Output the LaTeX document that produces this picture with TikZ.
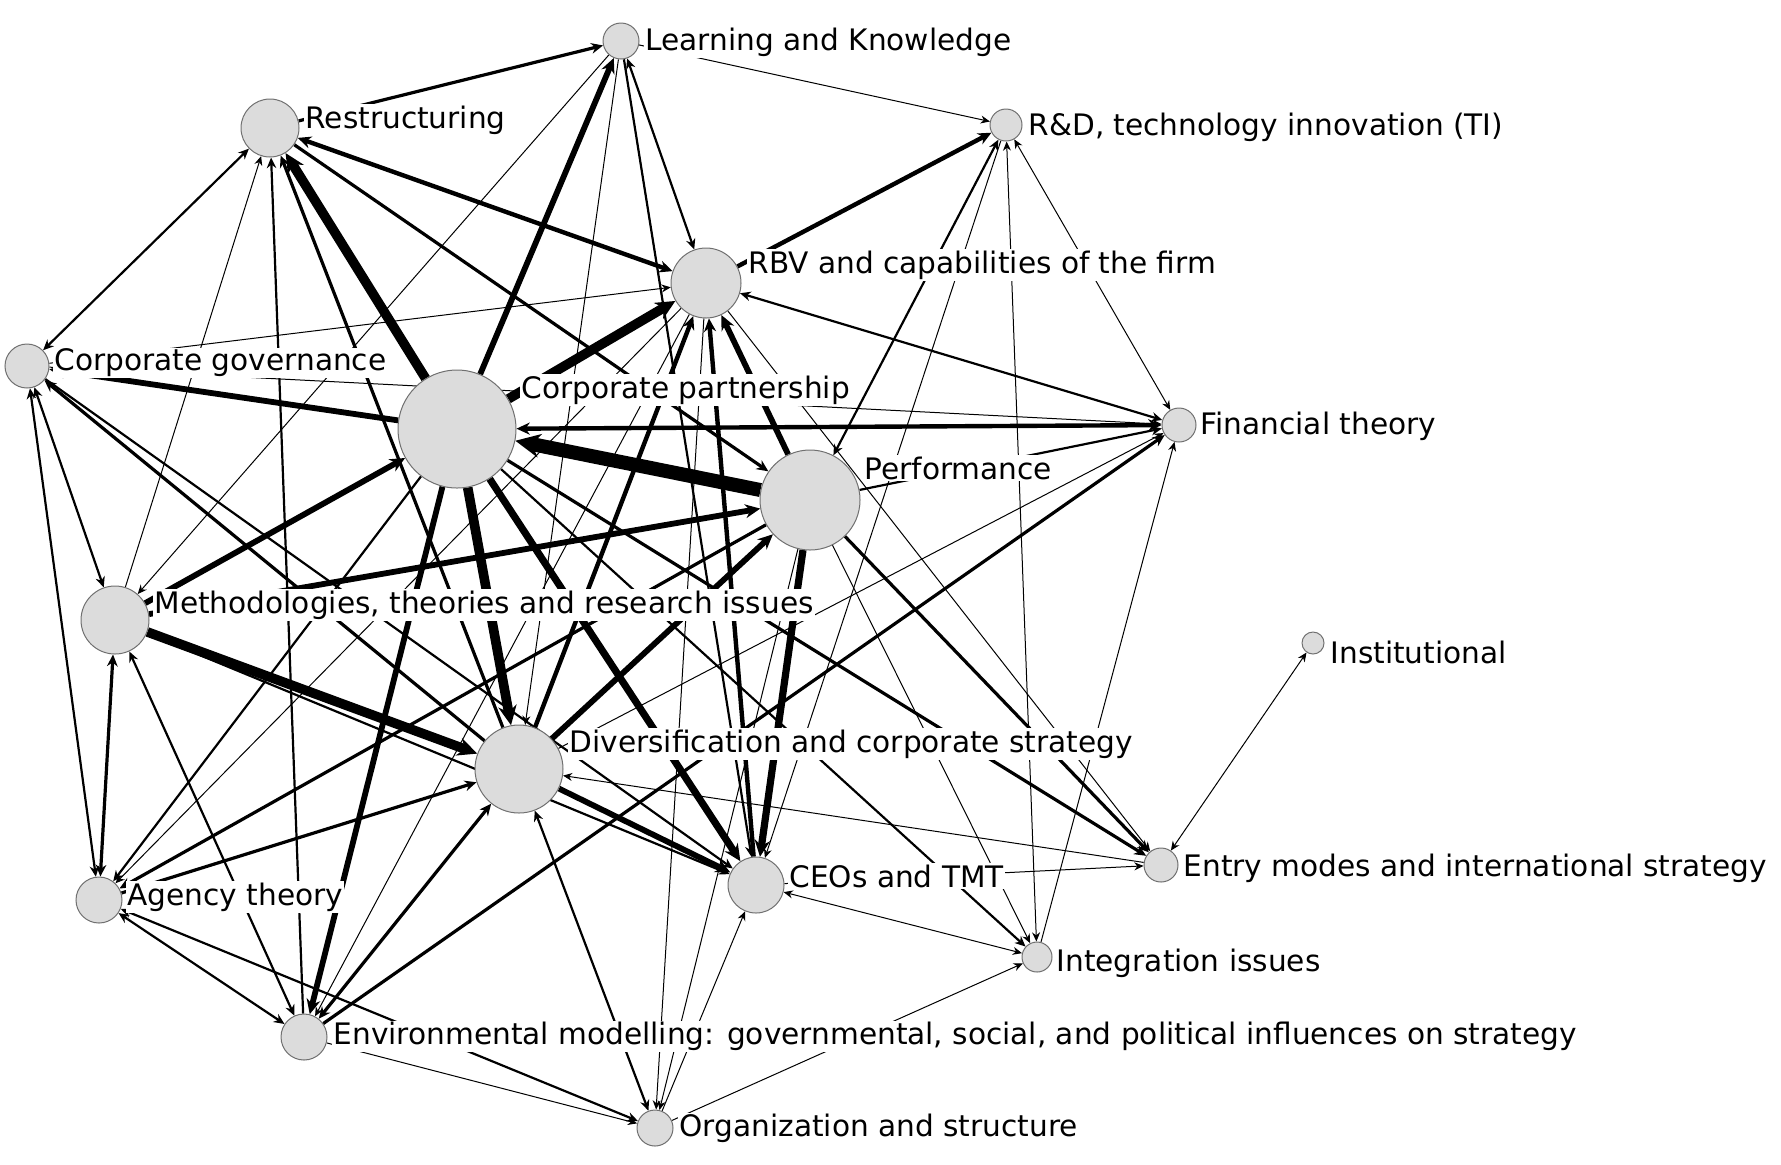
\documentclass[tikz,border=0pt]{standalone}
\usepackage{fontspec}
\setmainfont{DejaVu Sans}
\usetikzlibrary{arrows.meta}
\pgfdeclarelayer{edges}
\pgfsetlayers{edges,main}
\definecolor{nodefill}{HTML}{DCDCDC}
\definecolor{nodeline}{HTML}{707070}

\begin{document}
\begin{tikzpicture}[x=0.5pt,y=-0.5pt,>={Stealth[length=4pt 1.2,width=3.4pt 1.2]},
 topic/.style={circle,draw=nodeline,fill=nodefill,inner sep=0pt,line width=0.5pt},
 lbl/.style={anchor=west,fill=white,inner sep=0.6pt,font=\fontsize{14.8}{16}\selectfont},
 w1/.style={line width=0.5pt},w2/.style={line width=1.1pt},w3/.style={line width=1.6pt},
 w4/.style={line width=2.2pt},w5/.style={line width=2.9pt},w6/.style={line width=3.6pt},
 w8/.style={line width=4.8pt},w10/.style={line width=7pt},
 fwd/.style={->},bck/.style={<-},both/.style={<->}]
\useasboundingbox (0,0) rectangle (1781,1164);
% topics
\foreach \n/\x/\y/\r in {LK/621/41/18,RS/270/128/29,RD/1006/125/16,RBV/706/283/35,
 CG/27/366/22,CP/457/429/59,FT/1179/425/17,PF/810/500/50,MT/115/620/34,IN/1313/643/11,
 DV/519/769/44,EM/1161/865/17,CEO/756/885/28,AG/99/900/23,II/1037/957/15,EV/304/1037/23,
 OS/655/1128/18}
 \node[topic,minimum size=\r pt] (\n) at (\x,\y) {};
% labels
\node[lbl] (LK-l) at (644,42) {Learning and Knowledge};
\node[lbl] (RS-l) at (304,120) {Restructuring};
\node[lbl] (RD-l) at (1027,127) {R\&D, technology innovation (TI)};
\node[lbl] (RBV-l) at (747,265) {RBV and capabilities of the firm};
\node[lbl] (CG-l) at (53,363) {Corporate governance};
\node[lbl] (CP-l) at (520,390) {Corporate partnership};
\node[lbl] (FT-l) at (1199,426) {Financial theory};
\node[lbl] (PF-l) at (863,468) {Performance};
\node[lbl] (MT-l) at (153,605) {Methodologies, theories and research issues};
\node[lbl] (IN-l) at (1329,652) {Institutional};
\node[lbl] (DV-l) at (568,744) {Diversification and corporate strategy};
\node[lbl] (EM-l) at (1182,868) {Entry modes and international strategy};
\node[lbl] (CEO-l) at (788,876) {CEOs and TMT};
\node[lbl] (AG-l) at (126,897) {Agency theory};
\node[lbl] (II-l) at (1055,963) {Integration issues};
\node[lbl] (EV-l) at (332,1036) {Environmental modelling: governmental, social, and political influences on strategy};
\node[lbl] (OS-l) at (678,1128) {Organization and structure};
% ties
\begin{pgfonlayer}{edges}
\foreach \a/\b/\w/\d in {RS/LK/w3/fwd,LK/RD/w1/fwd,LK/RBV/w2/both,CP/LK/w5/fwd,LK/MT/w1/fwd,
 LK/DV/w1/fwd,LK/CEO/w2/fwd,RBV/OS/w1/fwd,
 CG/RS/w2/both,MT/RS/w1/fwd,EV/RS/w2/fwd,DV/RS/w3/fwd,CP/RS/w8/fwd,RS/PF/w3/fwd,RBV/RS/w4/both,
 CP/CG/w5/fwd,CG/RBV/w1/fwd,DV/CG/w3/fwd,CG/MT/w2/both,CG/AG/w2/both,CG/FT/w1/fwd,CG/CEO/w2/fwd,
 MT/AG/w3/both,EV/MT/w2/both,MT/DV/w8/fwd,MT/CP/w5/fwd,MT/PF/w5/fwd,
 AG/EV/w2/both,AG/OS/w2/both,PF/AG/w3/fwd,AG/DV/w3/fwd,CP/AG/w2/fwd,RBV/AG/w1/fwd,
 CP/EV/w5/fwd,RBV/EV/w1/fwd,EV/DV/w3/both,EV/FT/w3/fwd,EV/OS/w1/fwd,
 OS/DV/w2/both,OS/CEO/w1/fwd,OS/II/w1/fwd,PF/OS/w1/fwd,
 CP/DV/w8/fwd,DV/RBV/w4/fwd,DV/PF/w5/fwd,DV/CEO/w5/fwd,EM/DV/w1/fwd,DV/FT/w1/fwd,
 CP/CEO/w6/fwd,PF/CEO/w6/fwd,CEO/RBV/w4/fwd,CEO/II/w1/both,CEO/EM/w1/fwd,RD/CEO/w1/fwd,MT/CEO/w2/fwd,
 CP/PF/w10/bck,CP/FT/w4/both,PF/FT/w2/fwd,PF/RBV/w5/fwd,RD/PF/w2/both,PF/EM/w3/fwd,PF/II/w1/fwd,
 RBV/FT/w2/both,II/FT/w1/fwd,RD/FT/w1/both,RD/II/w1/both,
 CP/RBV/w8/fwd,RBV/RD/w4/fwd,RBV/EM/w1/fwd,
 CP/EM/w3/fwd,IN/EM/w1/both,CP/II/w2/fwd}
 \draw[\w,\d] (\a) -- (\b);
\end{pgfonlayer}
\end{tikzpicture}
\end{document}
